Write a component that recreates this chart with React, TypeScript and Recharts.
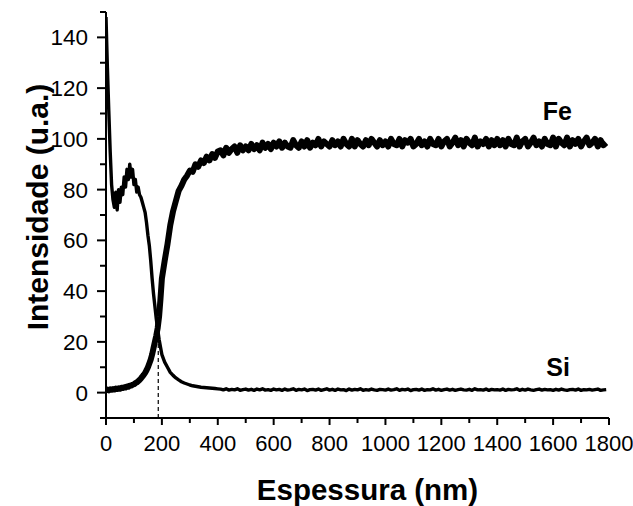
import React from 'react';
import { LineChart, Line, XAxis, YAxis, ReferenceLine, ReferenceDot } from 'recharts';

// depth (nm): 0..200 every 5, then 210..1790 every 10
const depthFine = [0,5,10,15,20,25,30,35,40,45,50,55,60,65,70,75,80,85,90,95,100,105,110,115,120,125,130,135,140,145,150,155,160,165,170,175,180,185,190,195,200];
const depthCoarse: number[] = [];
for (let d = 210; d <= 1790; d += 10) depthCoarse.push(d);
const depth = [...depthFine, ...depthCoarse];

const fe = [
  0.8,1.2,0.9,1.3,1.1,1.4,1.2,1.6,1.4,1.7,1.5,1.9,1.8,2.1,2.0,2.4,2.3,2.7,2.8,3.1,
  3.3,3.7,4.0,4.5,5.0,5.6,6.3,7.0,7.8,8.8,10,11.5,13,15,17.5,20,22.5,25.5,30,37,45,
  // 210-400
  52,58.5,66,71.5,75.5,79.5,81.5,84,85.5,87.5,87,90,89,91.5,90.5,93,91.5,94,92.5,95,
  // 410-600
  95.5,93.5,96.5,94.5,96,97,94.5,97.5,95.5,97,95.5,98,96,97.5,95.5,98.5,96.5,98,96,98.5,
  // 610-800
  97,99,96.5,98.5,97,96.5,99.5,97.5,96.5,99,97,99.5,96.5,98.5,97.5,100,97,99,98,97,
  // 810-1000
  99.5,97.5,99,97,100,98,97,100,97,99.5,98,97,99.5,97.5,100,98.5,97,99.5,97.5,99,
  // 1010-1200
  97,100,98,97.5,100,97,99.5,98.5,100,97,98,100,97.5,99,97,100,98,97.5,100,97,
  // 1210-1400
  99,100,97,98.5,100.5,97.5,99.5,97,100,98.5,97.5,100.5,97,99,98,100,97,99.5,97.5,100,
  // 1410-1600
  97.5,99.5,97,100,98,97.5,100.5,97,99,100,97,98.5,100.5,97.5,99,97,100,98,97.5,100.5,
  // 1610-1790
  97,100,98.5,97.5,100.5,97,99.5,98,100,97,99,100.5,97.5,98.5,100,97,99.5,97.5,98.5,
];

const si = [
  148,128,111,95,82,76,73,79,72,80,75,81,78,85,81,88,84,90,85,88,
  82,84,79,81,78,77,75,73,71,67,62,58,52,45,39,34,29,25,21,18,15,
  // 210-400
  12,10,8,6.8,5.8,5,4.3,3.8,3.4,3.0,2.7,2.5,2.3,2.1,2.0,1.9,1.8,1.7,1.6,1.5,
  // 410-600
  1.4,1.1,1.5,1.0,1.3,1.1,1.5,0.9,1.2,1.4,1.0,1.3,0.9,1.4,1.1,1.5,1.0,1.2,0.9,1.4,
  // 610-800
  1.1,1.3,0.9,1.4,1.0,1.2,1.5,0.9,1.3,1.1,1.4,0.8,1.2,1.3,1.0,1.4,0.9,1.2,1.5,1.0,
  // 810-1000
  1.3,0.9,1.4,1.1,1.2,0.8,1.4,1.0,1.3,1.1,1.5,0.9,1.2,1.0,1.4,1.1,0.9,1.3,1.2,1.0,
  // 1010-1200
  1.4,1.0,1.2,1.5,0.9,1.3,1.1,1.4,0.8,1.2,1.3,1.0,1.4,0.9,1.2,1.1,1.5,1.0,1.3,0.9,
  // 1210-1400
  1.2,1.4,1.0,1.3,0.9,1.2,1.4,1.1,1.0,1.3,0.9,1.5,1.1,1.2,1.0,1.4,0.9,1.3,1.1,1.2,
  // 1410-1600
  1.0,1.4,0.9,1.3,1.1,1.2,1.5,0.9,1.3,1.0,1.4,1.1,0.9,1.2,1.4,1.0,1.3,1.1,1.2,0.9,
  // 1610-1790
  1.3,1.0,1.4,1.1,0.9,1.2,1.3,1.0,1.4,0.9,1.2,1.1,1.3,1.0,1.2,1.4,0.9,1.1,1.2,
];

const xTicks = [0,100,200,300,400,500,600,700,800,900,1000,1100,1200,1300,1400,1500,1600,1700,1800];
const yTicks = [-10,0,10,20,30,40,50,60,70,80,90,100,110,120,130,140,150];
const interfaceDepth = 187;
const interfaceTop = 21;

const rows = depth.map((d, i) => ({ x: d, fe: fe[i], si: si[i] }));

const FONT = '"Liberation Sans", Arial, sans-serif';

const XTick = (props: any) => {
  const { x, y, payload } = props;
  const v = payload.value;
  const major = v % 200 === 0;
  return (
    <g>
      <line x1={x} y1={y} x2={x} y2={y + (major ? 7 : 5)} stroke="#000" strokeWidth={2} />
      {major && (
        <text x={x} y={y + 33} textAnchor="middle" fontSize={22} fontFamily={FONT} fill="#000">{v}</text>
      )}
    </g>
  );
};

const YTick = (props: any) => {
  const { x, y, payload } = props;
  const v = payload.value;
  const major = v % 20 === 0 && v >= 0 && v <= 140;
  return (
    <g>
      <line x1={x} y1={y} x2={x - (major ? 9 : 6)} y2={y} stroke="#000" strokeWidth={2} />
      {major && (
        <text x={x - 18} y={y} dy="0.36em" textAnchor="end" fontSize={22.5} fontFamily={FONT} fill="#000">{v}</text>
      )}
    </g>
  );
};

const YLabel = (props: any) => {
  const { viewBox } = props;
  const cx = viewBox.x + 21;
  const cy = viewBox.y + viewBox.height / 2 - 8;
  return (
    <text x={cx} y={cy} transform={`rotate(-90 ${cx} ${cy})`} textAnchor="middle" dominantBaseline="central"
      fontSize={30} fontWeight="bold" fontFamily={FONT} fill="#000">Intensidade (u.a.)</text>
  );
};

const XLabel = (props: any) => {
  const { viewBox } = props;
  const cx = viewBox.x + viewBox.width / 2 + 10;
  return (
    <text x={cx} y={viewBox.y + 82} textAnchor="middle" fontSize={29.5} fontWeight="bold" fontFamily={FONT} fill="#000">Espessura (nm)</text>
  );
};

export default function App() {
  return (
    <div style={{ width: 633, height: 506 }}>
      <style>{`html,body{margin:0;padding:0;overflow:hidden} svg.recharts-surface{overflow:visible}`}</style>
      <LineChart width={633} height={506} data={rows} margin={{ top: 12, right: 24, left: 16, bottom: 48 }}>
        <XAxis type="number" dataKey="x" domain={[0, 1800]} ticks={xTicks} interval={0}
          tick={<XTick />} tickLine={false} tickSize={0} tickMargin={0} height={40}
          axisLine={{ stroke: '#000', strokeWidth: 2 }} allowDataOverflow label={<XLabel />} />
        <YAxis type="number" domain={[-10, 150]} ticks={yTicks} interval={0}
          tick={<YTick />} tickLine={false} tickSize={0} tickMargin={0} width={90}
          axisLine={{ stroke: '#000', strokeWidth: 2 }} allowDataOverflow label={<YLabel />} />
        <ReferenceLine segment={[{ x: interfaceDepth, y: -10 }, { x: interfaceDepth, y: interfaceTop }]}
          stroke="#000" strokeWidth={1.2} strokeDasharray="4 3" />
        <Line type="linear" dataKey="fe" stroke="#000" strokeWidth={6} strokeLinejoin="round" dot={false} isAnimationActive={false} />
        <Line type="linear" dataKey="si" stroke="#000" strokeWidth={3.4} strokeLinejoin="round" dot={false} isAnimationActive={false} />
        <ReferenceDot x={1615} y={111} r={0} fill="none" stroke="none"
          label={{ value: 'Fe', position: 'center', fontSize: 25, fontWeight: 'bold', fill: '#000', fontFamily: FONT }} />
        <ReferenceDot x={1618} y={10} r={0} fill="none" stroke="none"
          label={{ value: 'Si', position: 'center', fontSize: 25, fontWeight: 'bold', fill: '#000', fontFamily: FONT }} />
      </LineChart>
    </div>
  );
}
